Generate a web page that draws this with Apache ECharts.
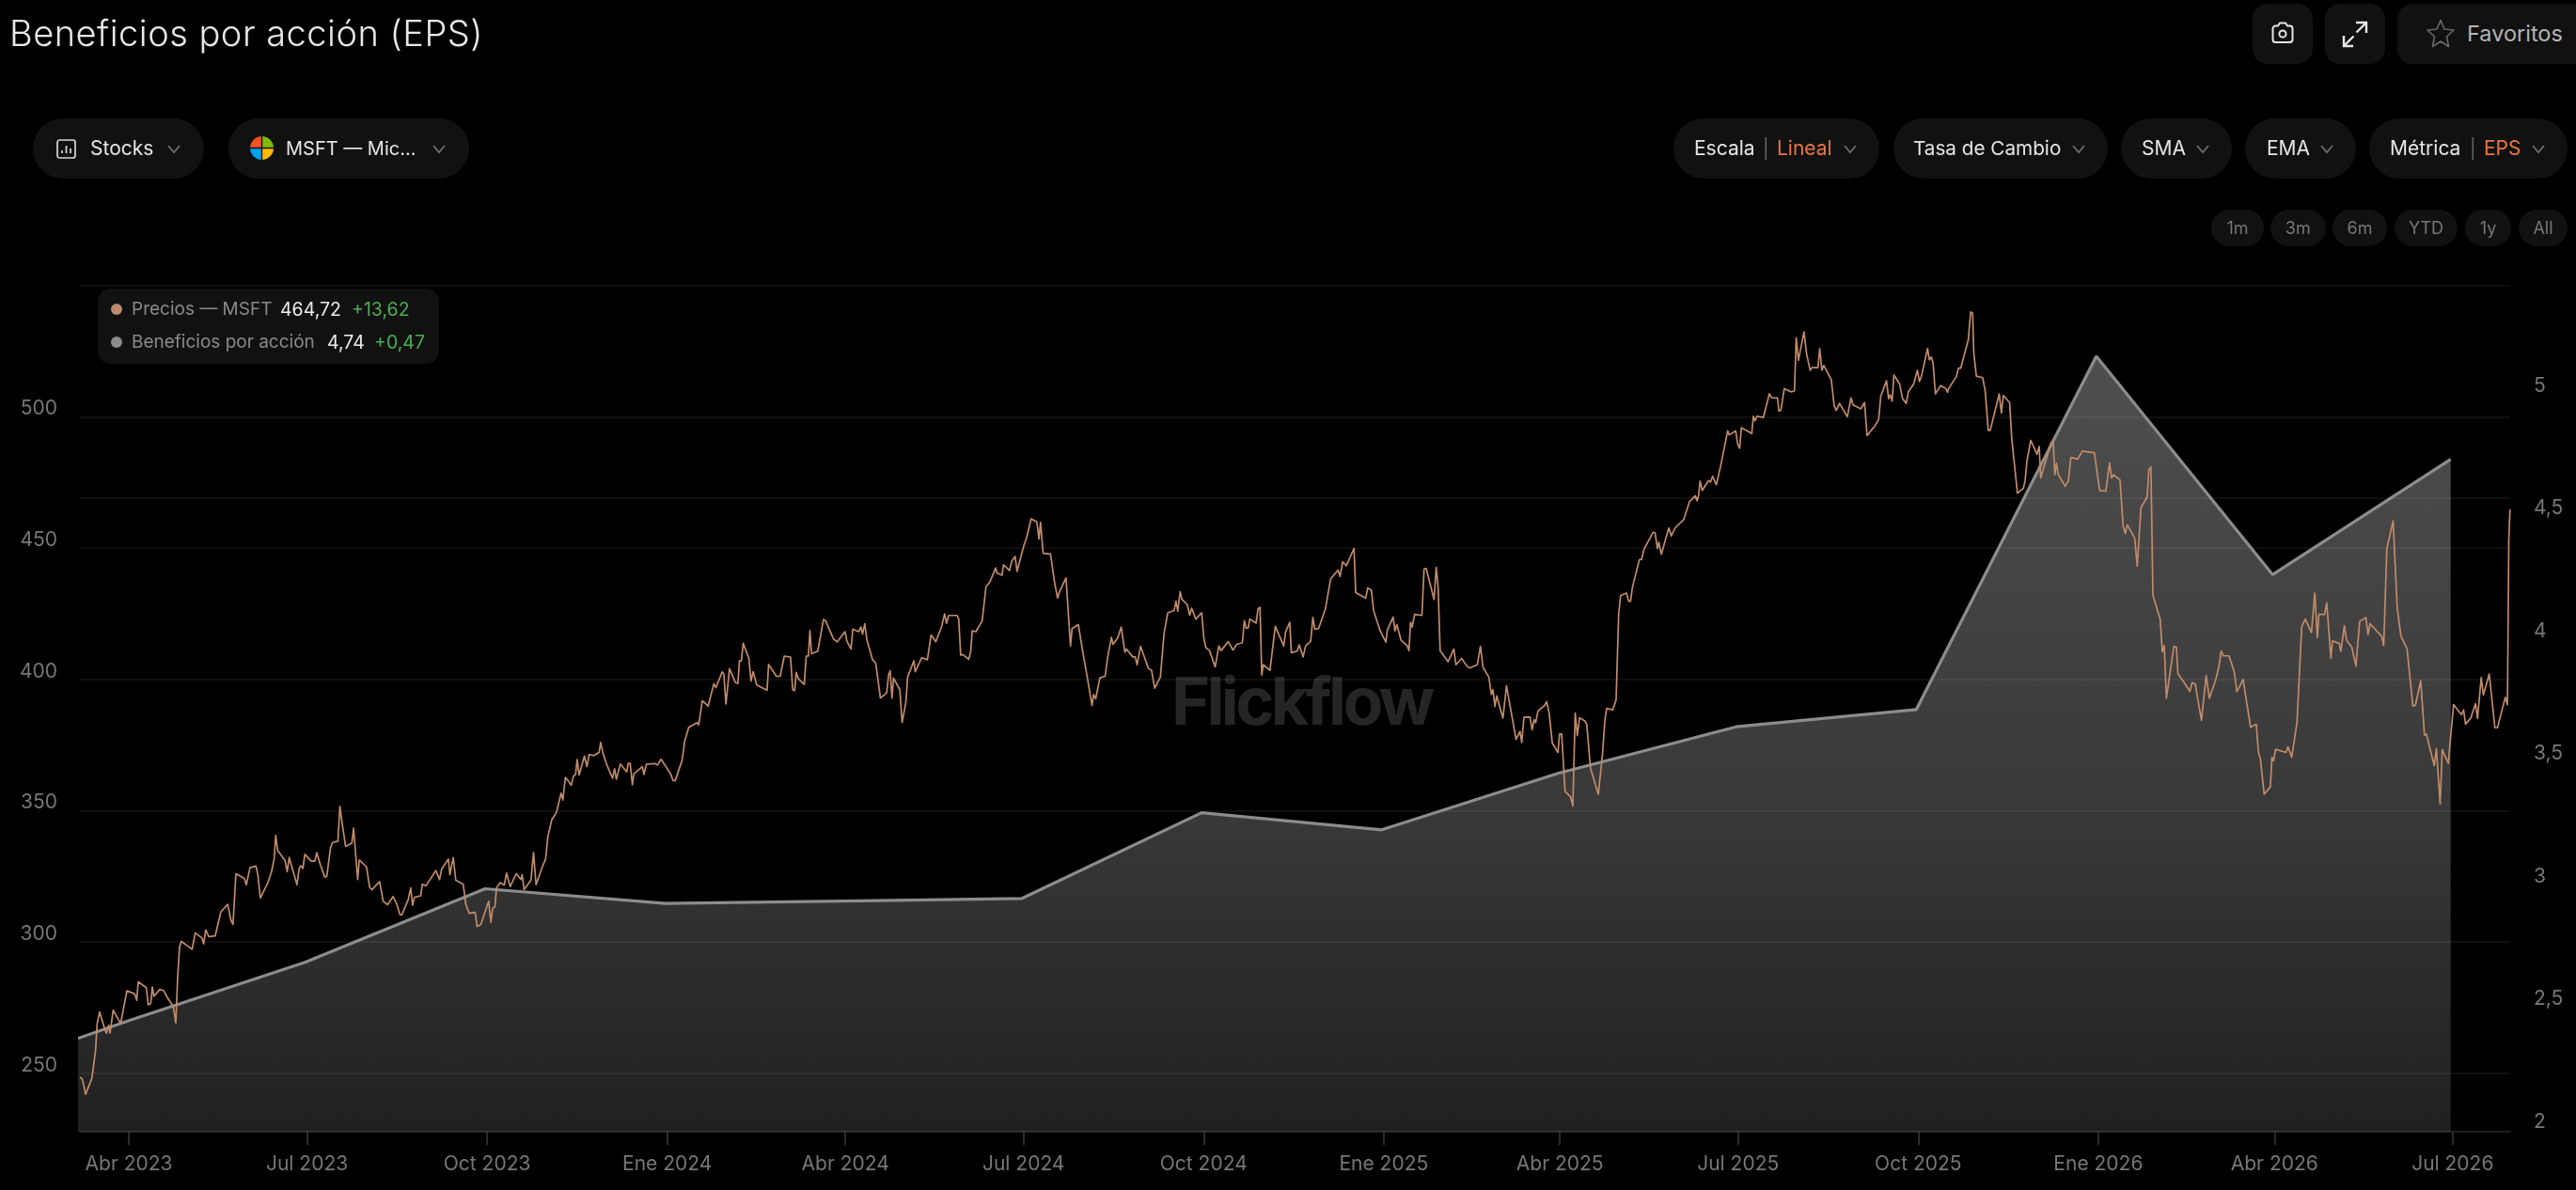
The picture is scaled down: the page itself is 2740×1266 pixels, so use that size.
<!DOCTYPE html>
<html lang="es">
<head>
<meta charset="utf-8">
<title>Beneficios por acción (EPS)</title>
<script src="https://cdn.jsdelivr.net/npm/echarts@6/dist/echarts.min.js"></script>
<style>
html,body{margin:0;padding:0;background:#000;width:2740px;height:1266px;overflow:hidden;font-family:Inter,"Noto Sans",sans-serif}
#chart{position:absolute;left:0;top:0;width:2740px;height:1266px;z-index:2}
#ui{position:absolute;left:0;top:0;width:2740px;height:1266px;z-index:3;pointer-events:none}
#wm{position:absolute;left:1246px;top:704px;z-index:1;font:700 70px Inter,sans-serif;letter-spacing:-3.6px;color:#252525;line-height:84px;white-space:nowrap}
.b{position:absolute;background:#111;box-sizing:border-box}
.t{position:absolute;white-space:nowrap;line-height:30px;font-size:21px;color:#e6e6e6;transform:translateY(-50%)}
svg{position:absolute;overflow:visible}
</style>
</head>
<body>
<div id="wm">Flickflow</div>
<div id="chart"></div>
<div id="ui"></div>
<script>
// Quarterly earnings per share (right axis)
const epsDates = ['2022-12-31','2023-03-31','2023-06-30','2023-09-30','2023-12-31','2024-03-31','2024-06-30','2024-09-30','2024-12-31','2025-03-31','2025-06-30','2025-09-30','2025-12-31','2026-03-31','2026-06-30'];
const epsValues = [2.20,2.45,2.69,2.99,2.93,2.94,2.95,3.30,3.23,3.46,3.65,3.72,5.16,4.27,4.74];

// Axis labels
const xTickDates = ['2023-04-01','2023-07-01','2023-10-01','2024-01-01','2024-04-01','2024-07-01','2024-10-01','2025-01-01','2025-04-01','2025-07-01','2025-10-01','2026-01-01','2026-04-01','2026-07-01'];
const xTickLabels = ['Abr 2023','Jul 2023','Oct 2023','Ene 2024','Abr 2024','Jul 2024','Oct 2024','Ene 2025','Abr 2025','Jul 2025','Oct 2025','Ene 2026','Abr 2026','Jul 2026'];
const priceTicks = [250,300,350,400,450,500];
const priceGridValues = [250,300,350,400,450,500,550];
const epsTicks = [2,2.5,3,3.5,4,4.5,5];
const priceGuide = 469.3;

// Share price: [days since the first day shown, close]
const firstDay = '2023-03-07';
const priceDayClose = [
[0,248.5],[1.3,247.6],[2.9,242],[6.1,248],[8,258.7],[8.8,268.9],[10.1,273.3],[12.8,266.5],[13.6,265.3],[14.7,268.3],[15.4,265.3],[17,274],[20.8,268.9],[24,281.4],[28,280.2],[29,277.8],[29.8,284.8],[33.9,282.6],[34.9,276],[36.2,276.6],[37,282.8],[37.8,279.3],[40.8,281.9],[42.9,281.4],[44.5,279],[47.7,275.4],[49,269.2],[49.9,286.2],[50.9,298.1],[51.8,300.2],[55.2,298.4],[57.3,297.2],[58.9,303.4],[62.4,301.5],[63.2,299.3],[64.3,304.6],[65.9,302],[69.1,302.3],[72,311.5],[75.5,314.3],[77.1,308.3],[78.2,306.7],[79.7,326],[84,324.2],[85,321.8],[86.9,328.3],[89.9,328.9],[90.9,325.6],[92.2,316.7],[96,322.6],[97.9,326.8],[99.2,331.6],[100,340.6],[101,334.9],[104.8,331],[105.9,326.8],[106.9,332.2],[110.9,321.8],[112,328],[113,329],[113.9,328],[114.9,333.4],[118.1,330.8],[120,330.8],[121,334],[122.9,329.2],[125.1,324.7],[126.1,325],[128,335.8],[129,337.9],[131.8,338.4],[132.8,351.7],[133.8,346],[135.7,336.4],[138.9,337.6],[139.8,343.3],[140.8,334],[141.9,323.8],[142.7,331.2],[146.4,328.6],[148,320.8],[149.1,319.9],[153.1,323],[154.9,315.5],[155.8,316.1],[157.1,314.2],[160,317.3],[161.9,314.3],[163.5,310.4],[164.5,310.4],[167.7,316.1],[169,320.6],[169.9,314],[170.9,317],[174.1,317.6],[174.9,322],[176.8,321.4],[181.8,327.2],[183.7,323.8],[184.8,327.8],[188.2,331.6],[189,325.6],[189.9,329.2],[190.7,332.1],[192,323.5],[195.8,322],[197.1,314.3],[198.9,310.9],[201.9,311.3],[202.9,305.9],[204.8,306.7],[208.8,315.5],[209.9,307.5],[210.9,312.8],[212,313.4],[212.8,320.6],[214.7,322.6],[216.8,321.7],[217.9,326.2],[219.8,321.1],[222.9,326],[225.3,323.8],[225.9,325.6],[226.9,320],[230.4,323.5],[231.7,334],[233,321.8],[236.5,329.2],[237.9,331.6],[239,340],[241,346.5],[243.5,349.5],[245.8,356.7],[246.7,354.1],[248,362.7],[249.3,361.5],
[251,359.7],[252.1,363.2],[253.2,363.8],[254,369.5],[255,363.6],[257.7,370.8],[259,366.8],[260.1,371.4],[262.5,371],[265.2,372.2],[266,376],[267,372.4],[267.9,372.4],[269.2,367.4],[272.1,362.4],[273.1,366],[274,362],[276.1,367.8],[279.3,364.8],[280.1,368],[281.1,368],[282.2,359.9],[283,364.1],[287.3,366.8],[288.1,363.8],[289.4,367.7],[293.7,368],[295,367.4],[296.9,369.6],[301.7,364.1],[303,361.5],[304.1,361.5],[307.6,369.2],[308.9,376.4],[311,381.8],[315.3,383.6],[316.1,382.7],[317.9,391.9],[320.9,389.9],[323.8,398.3],[324.9,396.9],[328.1,402.9],[328.9,402.1],[330,390.7],[331.8,404.1],[334.8,398.9],[336.1,398.5],[336.9,407.1],[337.9,407.1],[338.8,413.8],[341.7,408.1],[342.8,399.4],[343.9,403],[345.7,397.9],[351,395.9],[351.8,405.7],[355.8,401.2],[357.7,401.2],[359.8,408.9],[363,408.5],[364.1,396.1],[365.1,395.7],[365.9,402.7],[367,400.3],[370,398.1],[371,408.9],[372.1,408.9],[372.9,418.6],[373.7,409.8],[376.9,410.8],[379.8,422.8],[380.9,422.4],[384.9,415.5],[386.8,414.3],[390.8,418.2],[391.8,414.6],[393.9,411.6],[394.8,419.2],[397.7,418.2],[399,420],[399.8,417.3],[400.9,421.2],[402,415.2],[404.9,407.5],[405.4,408.1],[406.5,406.3],[408.9,392.9],[412.1,394.9],[413.1,401.8],[413.9,403.3],[414.8,392.9],[415.6,400.5],[418.8,396.1],[420,383.6],[421.9,391.3],[422.8,400.9],[426,407.1],[426.7,402.9],[430,408.3],[432.9,407.5],[434.8,417],[437.2,414.4],[440.1,420],[441.7,425],[442.7,421.4],[443.8,424.4],[448.1,424.4],[448.9,423],[449.9,409.3],[451,409.5],[454,407.7],[455,410.4],[455.8,418.5],[457.7,418.2],[460.9,422.4],[462.8,435.2],[464.9,437.3],[467.8,442.5],[468.4,440.6],[471,439.7],[471.8,443.7],[474.8,441.5],[476,445.1],[477.7,446.9],[478.7,441.2],[482.2,451.1],[483.6,454.1],[485.9,461.2],[488.8,460],[489.9,453.5],[490.7,459.8],[492,448.1],[492.9,447.5],[495.8,447.8],[497.7,437.7],[499.4,431],
[500.2,433.1],[503.7,438.7],[506,412.8],[506.8,419.4],[510,420.9],[511.9,412.2],[512.7,411.6],[514.3,402],[517,390.1],[517.8,394.3],[518.9,392.7],[521,400.6],[523.7,401.2],[525,408.6],[526.9,416],[527.7,413.4],[530.1,415.8],[531.9,420],[532.8,419.4],[533.8,410.4],[534.6,411.6],[537.8,408.6],[539.1,408.6],[540,405.6],[541.8,412.6],[545.8,404.2],[547.4,403.5],[549,396.7],[551.9,400.9],[553.8,417.6],[555.7,425.4],[558.9,426.3],[559.9,429.8],[560.8,426],[562,433.5],[562.9,430.5],[565.6,428.6],[566.9,424.5],[567.9,427.1],[568.7,426.5],[570,423],[573,425.4],[574.1,415.8],[575.1,412.2],[577,411],[579.9,404.8],[581.8,412.8],[582.9,411],[586.6,414.4],[589,411.2],[590.9,413.4],[593.8,414],[594.8,422.4],[595.7,419.6],[596.7,419.6],[597.6,423],[600.8,421.5],[601.8,426.9],[602.8,427.5],[603.7,401.7],[604.5,405.6],[607.9,403.5],[610.6,420.2],[614.9,412.8],[615.9,418.2],[618,421.8],[618.8,410.2],[621.8,410.8],[622.8,413.2],[624.8,408.6],[626.1,412.8],[628.7,414.6],[629.8,423.6],[630.8,419.1],[632.7,419.4],[636.2,426.9],[637,427.1],[638.9,438.3],[642.6,441.7],[643.7,439.3],[645,444.8],[645.8,445.1],[646.9,443.3],[650.8,449.9],[651.7,433.1],[656.8,431],[657.8,434.9],[659.7,434],[660.8,426.3],[664.2,418.5],[667.1,414.2],[667.9,419],[670.8,423.8],[671.7,418.5],[672.7,420.9],[674.8,415],[678,412.8],[678.9,411],[679.7,421.8],[680.5,420],[681.8,424.8],[685.5,424.4],[686.6,442.1],[687.7,442.3],[691.7,430.5],[692.8,442.7],[693.8,434.9],[694.8,411],[695.7,411],[698.9,406.8],[701.8,411.6],[702.9,405.6],[705.8,408],[707.4,406.2],[708.2,406.6],[709,404.7],[710,404.4],[713.8,405.6],[715.4,412.6],[716.7,404.7],[719.7,400.9],[721,394.3],[721.8,396.1],[722.8,389.7],[723.7,393.7],[726.9,385.3],[727.7,385.3],[728.7,397.6],[733.6,377.2],[735.6,380.2],[736.5,376],[737.6,385.6],[740.7,385.7],[741.8,380.8],[742.8,384.7],[743.6,383.5],[744.8,388],[748.2,390.1],[749.2,391.6],
[750.5,387.2],[751.1,387.5],[752.1,375.8],[755,372.2],[755.8,379.2],[756.9,379.2],[758.6,357.4],[761.4,355.3],[762.6,351.8],[763.8,387.2],[764.9,378.6],[766,385.4],[768.7,384.2],[769.7,383],[771.6,366.2],[775.6,356.3],[777.7,371],[779,384.8],[779.9,389],[783,388.4],[784.7,392.3],[786,424.8],[787,432],[790,432.9],[791.1,429.8],[792.1,429.8],[793,435],[793.7,435.3],[796.6,445.7],[797.7,445.7],[799,449.7],[803.6,456.1],[804.6,455.9],[805.8,449.9],[806.5,452.3],[807.8,447.7],[811.6,457.7],[812.9,454.7],[814.8,457.7],[819.3,461],[822.2,467.8],[825.2,470],[826,468.1],[826.8,470],[827.6,475.6],[828.7,472],[831.9,475.8],[832.9,475.2],[834,477.4],[835.9,474.2],[838,481],[841.7,494.7],[842.5,493.2],[845.8,494.7],[846.8,489.6],[847.8,488.1],[848.7,495.9],[854,493.7],[854.8,500.3],[855.6,498.6],[856.7,500.3],[859.9,499.8],[860.9,502.7],[861.8,502.7],[863,508.9],[864.1,507.3],[867.1,507.3],[867.9,502.2],[868.9,502.7],[870.6,510.8],[874,509.6],[875.8,509.9],[876.7,530.2],[877.8,521.6],[880.7,532.4],[882,524],[883.8,517.8],[884.7,518.8],[887.8,518.8],[888.7,526.1],[889.8,517.8],[890.8,519.6],[894.6,514.2],[896.1,504.3],[897.2,502.5],[898.8,505.2],[902.8,500.1],[904.7,507.3],[905.7,504.6],[909.7,503.1],[911.6,505.5],[912.9,492.9],[915.6,495.5],[916.7,496.3],[918.8,499.1],[919.9,507.9],[922.8,513.8],[923.9,507],[924.7,508.4],[925.7,506.1],[926.6,516],[929.5,512.6],[931,507],[931.8,507.5],[932.9,505.2],[934,509.6],[936.7,512.6],[938.6,517.8],[939.6,513.5],[940.7,515.6],[943.8,526.1],[944.7,521.8],[945.7,522.8],[946.6,520.6],[947.8,508.8],[950.5,512],[953.2,510.8],[954,509.4],[954.5,510.8],[958.5,515.4],[959.6,518.6],[960.7,518.6],[964.6,529.4],[965.8,540],[966.8,539.5],[967.4,524.6],[968.7,515.6],[971.9,515],[973.2,510.2],[974.8,494.9],[975.8,494.9],[980.4,508.8],[981.5,501.5],[982.5,508.2],[985.7,505.5],[986.8,491.7],[989.7,471],[992.7,472.8],[993.6,475.6],
[994.6,483.4],[996.5,491.1],[999.7,485.8],[1000.8,488.8],[1001.6,476.8],[1002.1,476.8],[1006.9,490.3],[1008,490.5],[1008.8,478],[1009.6,482.4],[1010.6,478],[1014.1,473.6],[1015.7,475.6],[1017,484.6],[1020.5,484],[1022.9,487],[1029,486.4],[1031.7,472],[1034.9,471.8],[1036.7,482.5],[1037.8,476.8],[1038.9,478],[1042.1,476],[1043.7,458.3],[1044.8,455.6],[1045.8,458.9],[1049.6,453.9],[1050.9,443.1],[1052.8,465.4],[1056,469.6],[1056.8,479.8],[1057.9,481],[1058.9,432],[1062.6,423],[1063.7,410.5],[1064.7,412.9],[1065.8,392.8],[1069.6,412.6],[1070.9,412.3],[1071.7,402.1],[1074.1,399.7],[1077.8,395.5],[1078.9,398.8],[1080.5,398.3],[1083.7,384.4],[1086.1,401.5],[1086.7,402.1],[1087.7,392.8],[1090.9,399.7],[1092.5,404.5],[1093.8,410.8],[1094.9,409],[1097.8,409],[1100.5,402.7],[1101.8,395.3],[1105,400],[1105.9,399.7],[1106.9,390.8],[1108.8,381.8],[1111.7,383],[1112.8,372.2],[1113.8,369.9],[1115.7,356.3],[1118.9,359.1],[1119.7,370.4],[1120.5,369],[1121.6,373.4],[1126.9,372.2],[1127.9,374.3],[1129.8,370.4],[1132.5,383.6],[1134.9,420],[1136.7,423],[1139.9,417.9],[1141.6,432.9],[1142.9,415.9],[1143.7,424.8],[1146.6,424.8],[1147.7,429.2],[1149.8,408.1],[1150.6,414.7],[1154.1,413.7],[1154.9,410.8],[1156.7,420.4],[1157.8,415],[1160.5,412.3],[1162.6,405.1],[1164.5,422.1],[1167.7,423.6],[1168.8,417.1],[1169.8,421.2],[1175.7,416.5],[1176.8,412.9],[1178.4,449.9],[1181.6,460.4],[1183.7,427.2],[1184.5,427.6],[1185.6,416.5],[1188.7,411.7],[1191.7,389.9],[1193,390.2],[1195.7,399.5],[1197.6,378.8],[1198.6,379.2],[1202.6,367.2],[1203.7,373.7],[1205.6,352.5],[1206.7,373.2],[1209.8,368],[1210.9,377.6],[1212.5,390.4],[1216.5,386.6],[1217.6,388.4],[1218.6,383],[1221.3,385.4],[1223.7,390.8],[1224.7,385.1],[1226.6,400.7],[1227.7,394.1],[1230.7,402.1],[1233.6,381.6],[1234.9,381.6],[1238.9,393.2],[1240,390.4],[1240.7,453.5],[1241.3,464.72]
];

const DAY = 86400000;
const utc = s => { const p = s.split('-').map(Number); return Date.UTC(p[0], p[1]-1, p[2]); };
const dayZero = utc(firstDay);
const xMax = dayZero + 1241.4 * DAY;
const xTickTimes = xTickDates.map(utc);
const tickLabelOf = {};
xTickTimes.forEach((t,i) => { tickLabelOf[t] = xTickLabels[i]; });

const GRID = 'rgba(255,255,255,0.075)';
const AXIS_TEXT = '#777777';
const FONT = 'Inter, "Noto Sans", sans-serif';

const chart = echarts.init(document.getElementById('chart'), null, {renderer:'canvas', width:2740, height:1266});
chart.setOption({
  backgroundColor:'transparent',
  animation:false,
  grid:{left:85, right:70, top:304, bottom:62, containLabel:false},
  xAxis:{
    type:'value', min:dayZero, max:xMax, scale:true,
    axisLine:{show:true, onZero:false, lineStyle:{color:'#2a2a2a', width:1.5}},
    axisTick:{show:true, length:14, lineStyle:{color:'#3a3a3a', width:1.5}, customValues:xTickTimes},
    splitLine:{show:false}, minorTick:{show:false},
    axisLabel:{customValues:xTickTimes, margin:24, fontSize:21, color:AXIS_TEXT, fontFamily:FONT, hideOverlap:false,
      formatter:v => tickLabelOf[v] || ''}
  },
  yAxis:[{
    type:'value', position:'left', min:227.7, max:550, scale:true,
    axisLine:{show:false}, axisTick:{show:false, customValues:priceGridValues},
    splitLine:{show:true, lineStyle:{color:GRID, width:1.5}},
    axisLabel:{customValues:priceTicks, margin:24, fontSize:21, color:AXIS_TEXT, fontFamily:FONT, verticalAlign:'bottom', align:'right', padding:[0,0,-2,0],
      formatter:v => String(v)}
  },{
    type:'value', position:'right', min:2, max:5.447, scale:true,
    axisLine:{show:false}, axisTick:{show:false, customValues:epsTicks},
    splitLine:{show:false},
    axisLabel:{customValues:epsTicks, margin:25, fontSize:21, color:AXIS_TEXT, fontFamily:FONT, verticalAlign:'bottom', align:'left',
      formatter:v => String(v).replace('.', ',')}
  }],
  series:[{
    name:'Beneficios por acción', type:'line', yAxisIndex:1, z:2,
    data:epsDates.map((d,i) => [utc(d), epsValues[i]]),
    showSymbol:false, smooth:false, clip:true,
    lineStyle:{color:'#8c8c8c', width:3.2},
    areaStyle:{origin:'start', color:new echarts.graphic.LinearGradient(0,0,0,1,[
      {offset:0,color:'rgba(255,255,255,0.445)'},{offset:0.6,color:'rgba(255,255,255,0.315)'},{offset:1,color:'rgba(255,255,255,0.18)'}])},
    emphasis:{disabled:true}
  },{
    name:'Precios — MSFT', type:'line', yAxisIndex:0, z:3,
    data:priceDayClose.map(p => [dayZero + p[0]*DAY, p[1]]),
    showSymbol:false, smooth:false, clip:true,
    lineStyle:{color:'#c08b6a', width:1.7, join:'round'},
    markLine:{silent:true, symbol:'none', label:{show:false}, animation:false,
      lineStyle:{color:GRID, width:1.5, type:'solid'}, data:[{yAxis:priceGuide}]},
    emphasis:{disabled:true}
  }]
});

// ---- page chrome around the chart ----
const ui = document.getElementById('ui');
function box(l,t,w,h,r){const e=document.createElement('div');e.className='b';e.style.cssText=`left:${l}px;top:${t}px;width:${w}px;height:${h}px;border-radius:${r}px`;ui.appendChild(e);return e;}
function txt(s,l,cy,o={}){const e=document.createElement('div');e.className='t';e.textContent=s;
  e.style.left=l+'px';e.style.top=cy+'px';e.style.fontSize=(o.size||21)+'px';e.style.color=o.color||'#e6e6e6';
  if(o.weight)e.style.fontWeight=o.weight;if(o.ls!=null)e.style.letterSpacing=o.ls+'px';if(o.lh)e.style.lineHeight=o.lh+'px';ui.appendChild(e);return e;}
function svg(html,l,t,w,h,vb){const d=document.createElementNS('http://www.w3.org/2000/svg','svg');d.setAttribute('width',w);d.setAttribute('height',h);d.setAttribute('viewBox',vb||`0 0 ${w} ${h}`);d.style.left=l+'px';d.style.top=t+'px';d.innerHTML=html;ui.appendChild(d);}
function chev(cx,cy){svg('<path d="M1 1 L7 8 L13 1" fill="none" stroke="#6e6e6e" stroke-width="1.8"/>',cx-7,cy-4,14,9);}

txt('Beneficios por acción (EPS)',10,35,{size:38,weight:300,color:'#e8e8e8',lh:48,ls:0.5});

const ROW=158;
box(35,126,182,64,32);
svg('<rect x="1" y="1" width="19" height="19" rx="2.5" fill="none" stroke="#d8d8d8" stroke-width="1.7"/><path d="M6 15v-3M10.5 15V7M15 15v-5" stroke="#d8d8d8" stroke-width="1.7" fill="none"/>',60,148,21,21);
txt('Stocks',96,ROW); chev(185,ROW);
box(243,126,256,64,32);
svg('<path d="M12.5 12.5 L12.5 0 A12.5 12.5 0 0 0 0 12.5 Z" fill="#f25022"/><path d="M12.5 12.5 L25 12.5 A12.5 12.5 0 0 0 12.5 0 Z" fill="#7fba00"/><path d="M12.5 12.5 L0 12.5 A12.5 12.5 0 0 0 12.5 25 Z" fill="#00a4ef"/><path d="M12.5 12.5 L12.5 25 A12.5 12.5 0 0 0 25 12.5 Z" fill="#ffb900"/><path d="M0 12.5H25M12.5 0V25" stroke="#111" stroke-width="1.4"/>',266,145,25,25);
txt('MSFT — Mic...',304,ROW,{size:20}); chev(467,ROW);

box(1780,126,219,64,32);
txt('Escala',1802,ROW); txt('|',1875,ROW,{color:'#666',size:20}); txt('Lineal',1890,ROW,{color:'#e8763f'}); chev(1968,ROW);
box(2014,126,228,64,32);
txt('Tasa de Cambio',2035,ROW,{size:20.7}); chev(2211,ROW);
box(2256,126,118,64,32);
txt('SMA',2278,ROW); chev(2343,ROW);
box(2388,126,118,64,32);
txt('EMA',2411,ROW); chev(2475,ROW);
box(2520,126,211,64,32);
txt('Métrica',2542,ROW); txt('|',2627,ROW,{color:'#666',size:20}); txt('EPS',2642,ROW,{color:'#e8763f'}); chev(2700,ROW);

box(2396,4,64,64,16);
svg('<path d="M8 4.5 L10 1.5 H16 L18 4.5 H20.5 A3 3 0 0 1 23.5 7.5 V19 A3 3 0 0 1 20.5 22 H5.5 A3 3 0 0 1 2.5 19 V7.5 A3 3 0 0 1 5.5 4.5 Z" fill="none" stroke="#e6e6e6" stroke-width="2"/><circle cx="13" cy="13" r="3.6" fill="none" stroke="#e6e6e6" stroke-width="2"/>',2415,23,26,24);
box(2473,4,64,64,16);
svg('<path d="M15 2 H26 V13 M26 2 L15.5 12.5 M12 27 H2 V16 M2 27 L12.5 16.5" fill="none" stroke="#e6e6e6" stroke-width="2.4"/>',2491,22,28,28);
box(2550,4,230,64,16);
svg('<path d="M15 1.5 L19 11 L29 12 L21.5 19 L23.5 29.5 L15 24 L6.5 29.5 L8.5 19 L1 12 L11 11 Z" fill="none" stroke="#666" stroke-width="1.7" stroke-linejoin="round"/>',2581,20,30,31);
txt('Favoritos',2624,36,{size:23.5,color:'#b5b5b5'});

const rangeButtons=[['1m',2352,56],['3m',2415,58.5],['6m',2481,58],['YTD',2547,67],['1y',2622,49],['All',2679,52]];
rangeButtons.forEach(b=>{const e=box(b[1],223,b[2],39,19.5);
  const t=txt(b[0],b[1]+b[2]/2,242.5,{size:18,color:'#777'});t.style.transform='translate(-50%,-50%)';});

box(104,307,362.5,80,14);
const dot=(cx,cy,c)=>svg(`<circle cx="6" cy="6" r="6" fill="${c}"/>`,cx-6,cy-6,12,12);
dot(124,329,'#b98a6c');
txt('Precios — MSFT',140,329,{size:19,color:'#8a8a8a'});
txt('464,72',298,329,{size:19.5,color:'#ececec'});
txt('+13,62',374,329,{size:19.5,color:'#4caf50'});
dot(124,364,'#8c8c8c');
txt('Beneficios por acción',140,364,{size:19,color:'#8a8a8a'});
txt('4,74',348,364,{size:19.5,color:'#ececec'});
txt('+0,47',398,364,{size:19.5,color:'#4caf50'});
</script>
</body>
</html>
